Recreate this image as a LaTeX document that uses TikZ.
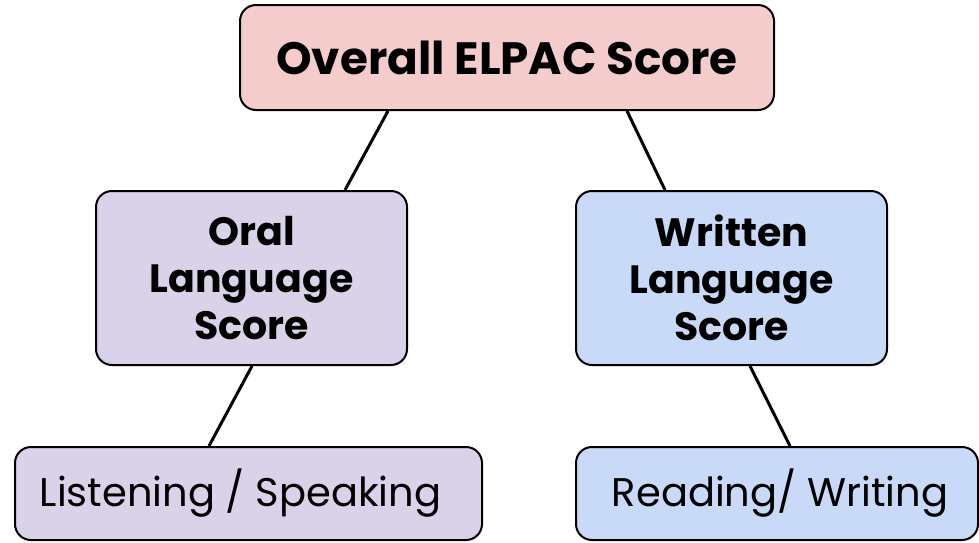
\documentclass[tikz,border=0pt]{standalone}
\usepackage{fontspec}
\setmainfont{Poppins}
\definecolor{pinkfill}{HTML}{F4CCCC}
\definecolor{purplefill}{HTML}{D9D2E9}
\definecolor{bluefill}{HTML}{C9DAF8}
\tikzset{
  box/.style={draw=black, line width=2pt, rounded corners=16pt, inner sep=0pt, align=center},
  topbox/.style={box, fill=pinkfill, minimum width=534pt, minimum height=105pt, font=\fontsize{45.3}{52}\selectfont\bfseries},
  midbox/.style={box, minimum width=311pt, minimum height=174pt, font=\fontsize{39.5}{47}\selectfont\bfseries},
  lowbox/.style={box, minimum height=93pt, font=\fontsize{40}{48}\selectfont},
  link/.style={line width=3pt, black}
}
\begin{document}
\begin{tikzpicture}[x=1pt,y=-1pt]
\useasboundingbox (0,0) rectangle (979,542);
\node[topbox] (top) at (507,57.5) {Overall ELPAC Score};
\node[midbox, fill=purplefill] (oral) at (251.5,278) {Oral\\Language\\Score};
\node[midbox, fill=bluefill] (written) at (731.5,278) {Written\\Language\\Score};
\node[lowbox, fill=purplefill, minimum width=467pt] (listen) at (248.5,493.5) {Listening / Speaking\hspace*{16pt}};
\node[lowbox, fill=bluefill, minimum width=402pt] (read) at (777,493.5) {\hspace*{6pt}Reading/ Writing};
\draw[link] ([xshift=-119pt]top.south) -- ([xshift=93.5pt]oral.north);
\draw[link] ([xshift=120pt]top.south) -- ([xshift=-66.5pt]written.north);
\draw[link] ([xshift=0.5pt]oral.south) -- ([xshift=-39.5pt]listen.north);
\draw[link] ([xshift=18.5pt]written.south) -- ([xshift=13pt]read.north);
\end{tikzpicture}
\end{document}
